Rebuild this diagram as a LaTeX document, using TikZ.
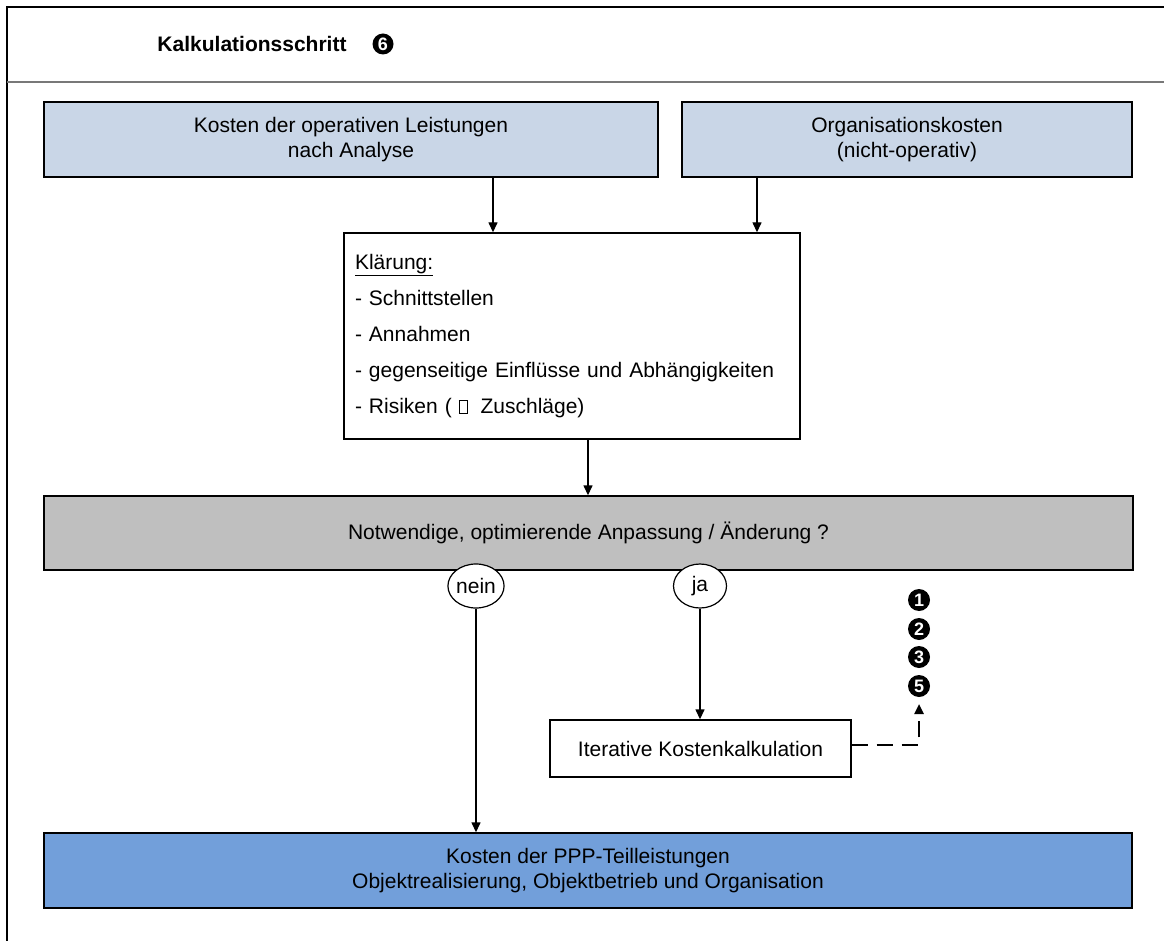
\documentclass[tikz,border=0pt]{standalone}
\usepackage{fontspec}
\setmainfont{Liberation Sans}
\usetikzlibrary{arrows.meta,shapes.geometric,calc}

\definecolor{paleblue}{RGB}{201,214,231}
\definecolor{midgrey}{RGB}{191,191,191}
\definecolor{deepblue}{RGB}{114,159,218}
\definecolor{ruleGrey}{RGB}{120,120,120}

% small empty box standing in for an unavailable symbol glyph
\newcommand{\emptyglyph}{{\fboxsep=0pt\fboxrule=0.6pt\fbox{\rule{0pt}{0.62em}\hspace{0.36em}}}}

\tikzset{
  base/.style={font=\fontsize{21}{25}\selectfont, align=center, inner sep=0pt},
  costbox/.style={base, draw=black, line width=1.4pt, fill=paleblue},
  decisionbox/.style={base, draw=black, line width=1.4pt, fill=midgrey},
  resultbox/.style={base, draw=black, line width=1.4pt, fill=deepblue},
  plainbox/.style={base, draw=black, line width=1.4pt, fill=white},
  answer/.style={base, ellipse, draw=black, line width=1.2pt, fill=white,
                 minimum width=55pt, minimum height=44pt},
  numdot/.style={circle, fill=black, text=white, inner sep=0pt,
                 minimum size=22pt, font=\fontsize{18}{18}\selectfont\bfseries},
  arr/.style={line width=1.4pt, -{Triangle[length=10pt,width=9pt]}},
  dasharr/.style={line width=2.4pt, dash pattern=on 16pt off 9pt,
                  -{Triangle[length=10pt,width=9pt]}},
}

\begin{document}
\begin{tikzpicture}[x=1pt,y=-1pt]
  \useasboundingbox (0,0) rectangle (1164,941);

  % frame and header rule
  \draw[line width=2pt] (7,941) -- (7,7) -- (1164,7);
  \draw[line width=1.5pt, ruleGrey] (7,82) -- (1164,82);

  % header
  \node[base, font=\fontsize{21}{25}\selectfont\bfseries] (title) at (252,44) {Kalkulationsschritt};
  \node[numdot, minimum size=21pt] (stepsix) at (383,44) {6};

  % input cost boxes
  \node[costbox, minimum width=614pt, minimum height=75pt] (ops) at (351,139.5)
    {Kosten der operativen Leistungen\\nach Analyse};
  \node[costbox, minimum width=450pt, minimum height=75pt] (org) at (907,139.5)
    {Organisationskosten\\(nicht-operativ)};

  % clarification box
  \node[plainbox, align=left, font=\fontsize{21}{36}\selectfont,
        text width=434pt, inner xsep=11pt, minimum height=206pt] (klaer) at (572,336)
    {\underline{Klärung:}\\
     - Schnittstellen\\
     - Annahmen\\
     - gegenseitige Einflüsse und Abhängigkeiten\\
     - Risiken ( \emptyglyph\hspace{0.62em}Zuschläge)};

  % decision box
  \node[decisionbox, minimum width=1089pt, minimum height=74pt] (decide) at (588.5,533)
    {Notwendige, optimierende Anpassung / Änderung ?};

  % answers
  \node[answer] (nein) at (476,586) {nein};
  \node[answer, minimum width=53pt] (ja) at (700,586) {ja};

  % iteration box
  \node[plainbox, minimum width=301pt, minimum height=57pt] (iter) at (700.5,748.5)
    {Iterative Kostenkalkulation};

  % previous calculation steps
  \node[numdot] (s1) at (919,600) {1};
  \node[numdot] (s2) at (919,629) {2};
  \node[numdot] (s3) at (919,657) {3};
  \node[numdot] (s5) at (919,686) {5};
  \coordinate (back) at (919,704);

  % result box
  \node[resultbox, minimum width=1088pt, minimum height=75pt] (result) at (588,870.5)
    {Kosten der PPP-Teilleistungen\\Objektrealisierung, Objektbetrieb und Organisation};

  % connectors
  \draw[arr] ([xshift=142pt]ops.south) -- ([xshift=142pt]ops.south |- klaer.north);
  \draw[arr] ([xshift=-150pt]org.south) -- ([xshift=-150pt]org.south |- klaer.north);
  \draw[arr] ([xshift=16pt]klaer.south) -- ([xshift=16pt]klaer.south |- decide.north);
  \draw[arr] (nein.south) -- (nein.south |- result.north);
  \draw[arr] (ja.south) -- (ja.south |- iter.north);
  \draw[dasharr] ([yshift=3.5pt]iter.east) -| (back);
\end{tikzpicture}
\end{document}
